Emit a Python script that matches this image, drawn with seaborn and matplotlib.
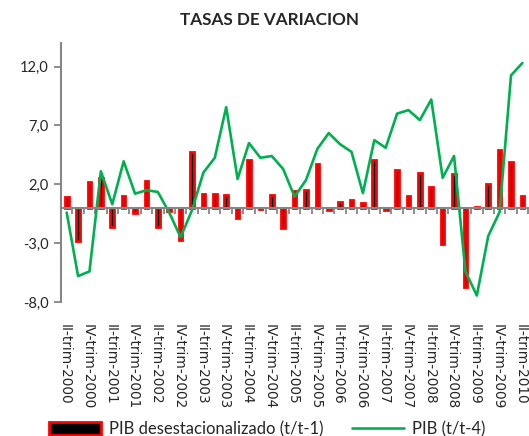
import numpy as np
import pandas as pd
import matplotlib
matplotlib.use("Agg")
import matplotlib.pyplot as plt
import seaborn as sns
from matplotlib.patches import Patch
from matplotlib.lines import Line2D
from matplotlib.ticker import FuncFormatter
from matplotlib.transforms import ScaledTranslation

# Data: quarters II-2000 .. II-2010
romans = ["I", "II", "III", "IV"]
quarters = [f"{q}-trim-{y}" for y in range(2000, 2011) for q in romans][1:42]

# PIB desestacionalizado (t/t-1)
pib_t1 = [0.9, -2.8, 2.2, 2.5, -1.6, 1.0, -0.4, 2.3, -1.6, -0.3, -2.7, 4.7,
          1.2, 1.2, 1.1, -0.9, 4.1, -0.1, 1.1, -1.7, 1.4, 1.5, 3.7, -0.2,
          0.5, 0.7, 0.4, 4.1, -0.2, 3.2, 1.0, 3.0, 1.8, -3.1, 2.9, -6.7,
          0.05, 2.0, 4.9, 3.9, 1.0]

# PIB (t/t-4)
pib_t4 = [-0.4, -5.8, -5.4, 3.1, 0.3, 3.95, 1.2, 1.5, 1.35, -0.4, -2.5, -0.2,
          3.0, 4.25, 8.55, 2.45, 5.5, 4.25, 4.4, 3.3, 0.95, 2.35, 5.0, 6.35,
          5.4, 4.75, 1.25, 5.75, 5.1, 8.0, 8.3, 7.45, 9.2, 2.55, 4.4, -5.4,
          -7.45, -2.4, -0.35, 11.25, 12.3]

yticks = [-8, -3, 2, 7, 12]

df = pd.DataFrame({"trim": quarters, "t1": pib_t1, "t4": pib_t4})
df["pos"] = np.arange(len(df))

sns.set_style("white")
plt.rcParams["font.family"] = ["Lato", "DejaVu Sans"]

fig = plt.figure(figsize=(5.29, 4.36), dpi=100)
ax = fig.add_axes([0.1153, 0.3073, 0.8830, 0.5941])

gray = "#868686"
green = "#00B050"

sns.barplot(data=df, x="trim", y="t1", color="black", edgecolor="red",
            linewidth=2.0, width=0.32, saturation=1, ax=ax, zorder=2)
sns.lineplot(data=df, x="pos", y="t4", color=green, linewidth=1.9, ax=ax, zorder=3)

ax.set_xlim(-0.5, len(df) - 0.5)
ax.set_ylim(-8, 14)
ax.set_xlabel("")
ax.set_ylabel("")

# y axis
ax.set_yticks(yticks)
ax.yaxis.set_major_formatter(FuncFormatter(lambda v, p: f"{v:.1f}".replace(".", ",")))
ax.tick_params(axis="y", left=True, length=5, width=1.3, color=gray, labelsize=10.5, pad=4)
ax.spines["left"].set_color(gray)
ax.spines["left"].set_linewidth(1.5)
ax.spines["top"].set_visible(False)
ax.spines["right"].set_visible(False)

# x axis line at zero with ticks between categories
ax.spines["bottom"].set_position(("data", 0))
ax.spines["bottom"].set_color(gray)
ax.spines["bottom"].set_linewidth(1.5)
ax.spines["bottom"].set_zorder(4)
ax.set_xticks(np.arange(-0.5, len(df), 1))
ax.set_xticklabels([])
ax.tick_params(axis="x", bottom=True, length=4, width=1.3, color=gray, direction="out")

# category labels at the bottom of the plot area
sec = ax.secondary_xaxis(0)
sec.set_xticks(df["pos"][::2], labels=df["trim"][::2],
               fontfamily="DejaVu Sans", fontsize=9.8)
sec.tick_params(length=0, pad=16, labelrotation=-90)
shift = ScaledTranslation(-1.5 / 72, 0, fig.dpi_scale_trans)
for lbl in sec.get_xticklabels():
    lbl.set_transform(lbl.get_transform() + shift)
sec.spines["bottom"].set_visible(False)

fig.text(0.51, 0.954, "TASAS DE VARIACION", ha="center", va="center",
         fontsize=12.3, fontweight="bold")

handles = [Patch(facecolor="black", edgecolor="red", linewidth=2.0),
           Line2D([], [], color=green, linewidth=1.9)]
fig.legend(handles, ["PIB desestacionalizado (t/t-1)", "PIB (t/t-4)"],
           loc="lower center", bbox_to_anchor=(0.505, -0.037), ncol=2, frameon=False,
           fontsize=12, handlelength=3.1, handleheight=0.8, columnspacing=1.7,
           handletextpad=0.5)

fig.savefig("out.png", dpi=100)
